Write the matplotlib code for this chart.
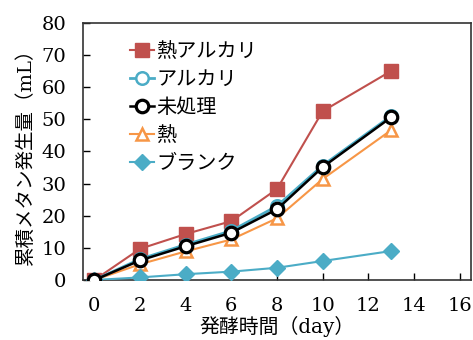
import matplotlib
matplotlib.use("Agg")
import matplotlib.pyplot as plt

plt.rcParams['font.family'] = ['DejaVu Serif', 'Noto Sans CJK JP']

days = [0, 2, 4, 6, 8, 10, 13]
heat_alkali = [0, 9.7, 14.3, 18.3, 28.3, 52.5, 65.0]
alkali = [0, 6.5, 11.0, 15.3, 23.0, 35.6, 51.0]
untreated = [0, 6.1, 10.5, 14.7, 22.0, 35.1, 50.6]
heat = [0, 4.9, 8.9, 12.6, 19.2, 31.4, 46.6]
blank = [0, 0.8, 1.8, 2.6, 3.8, 5.9, 9.0]

labels = ['熱アルカリ', 'アルカリ', '未処理', '熱', 'ブランク']

fig = plt.figure(figsize=(4.73, 3.4), dpi=100)
ax = fig.add_axes([0.1755, 0.1765, 0.8203, 0.7565])

ax.plot(days, heat_alkali, color='#C0504D', lw=1.5, marker='s', ms=9.5,
        label=labels[0], zorder=3)
ax.plot(days, alkali, color='#4BACC6', lw=2, marker='o', ms=9,
        mfc='white', mec='#4BACC6', mew=1.8, label=labels[1], zorder=4)
ax.plot(days, untreated, color='black', lw=1.8, marker='o', ms=9,
        mfc='white', mec='black', mew=2.3, label=labels[2], zorder=5)
ax.plot(days, heat, color='#F79646', lw=1.5, marker='^', ms=9,
        mfc='white', mec='#F79646', mew=1.8, label=labels[3], zorder=3)
ax.plot(days, blank, color='#4BACC6', lw=1.5, marker='D', ms=8.5,
        label=labels[4], zorder=3)

ax.set_xlim(-0.5, 16.5)
ax.set_ylim(0, 80)
ax.set_xticks(range(0, 17, 2))
ax.set_yticks(range(0, 81, 10))
ax.tick_params(direction='in', labelsize=14, length=5, width=1)
ax.tick_params(axis='x', pad=12)
ax.tick_params(axis='y', pad=12)
for s in ax.spines.values():
    s.set_linewidth(1.2)
    s.set_color('#333333')

ax.set_xlabel('発酵時間（day）', fontsize=14.3, labelpad=1)
ax.set_ylabel('累積メタン発生量（mL）', fontsize=14, labelpad=5)

ax.legend(loc='upper left', bbox_to_anchor=(0.121, 0.925), frameon=False,
          fontsize=14.5, handlelength=1.2, handletextpad=0.1,
          labelspacing=0.45, borderpad=0, borderaxespad=0)

fig.savefig('out.png', dpi=100)
